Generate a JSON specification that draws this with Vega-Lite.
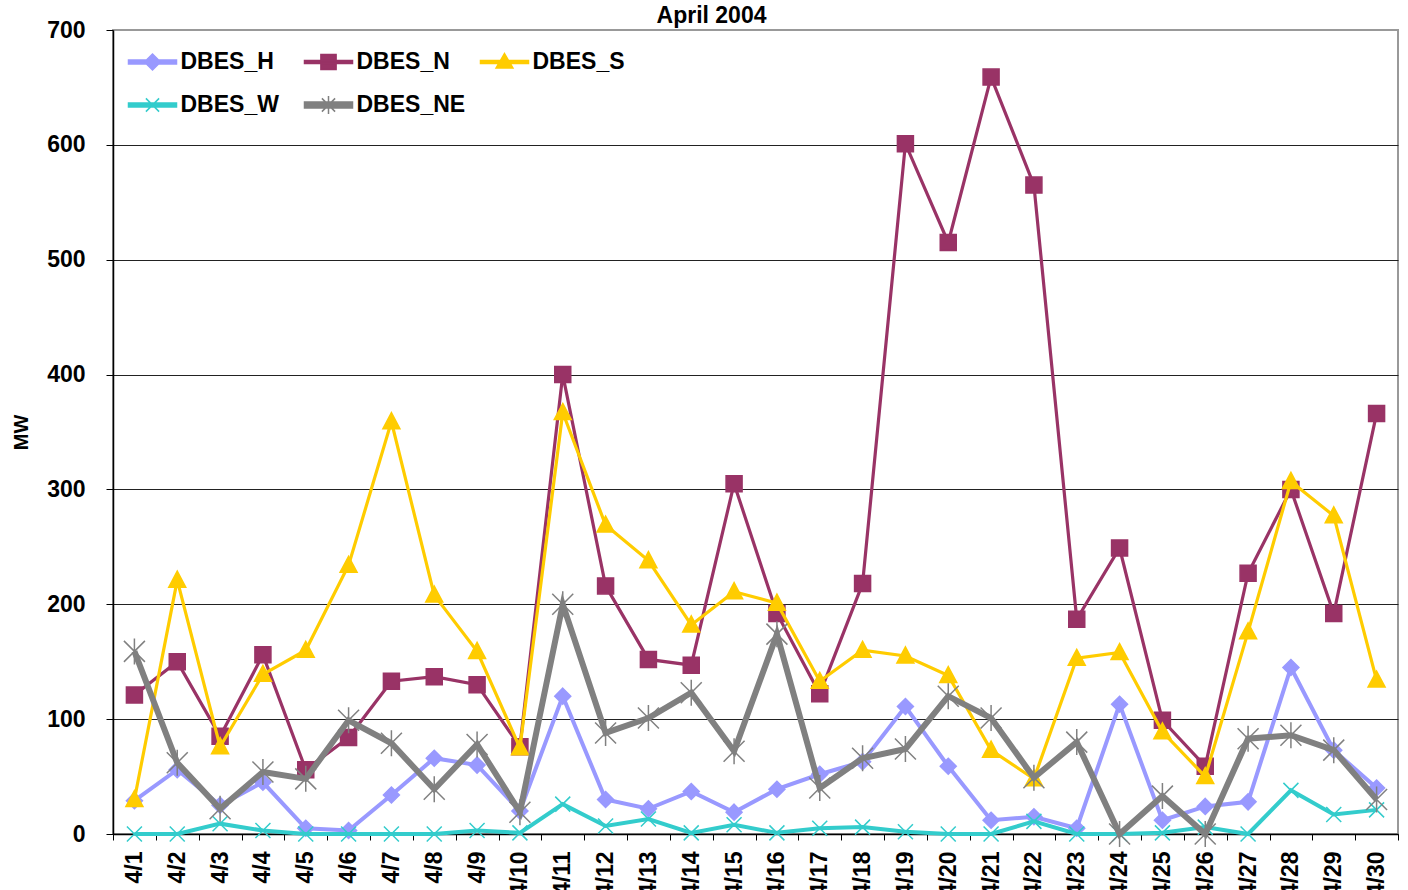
{
  "$schema": "https://vega.github.io/schema/vega-lite/v6.json",
  "width": 1285,
  "height": 804,
  "autosize": {"type": "none"},
  "padding": {"left": 113, "top": 30, "right": 10, "bottom": 56},
  "background": "white",
  "title": {"text": "April 2004", "font": "Liberation Sans", "fontSize": 23, "fontWeight": "bold", "color": "#000", "offset": -9, "dx": -44},
  "datasets": {
    "mw": [
      {"date":"4/1","series":"DBES_H","mw":29},{"date":"4/2","series":"DBES_H","mw":56},{"date":"4/3","series":"DBES_H","mw":25},{"date":"4/4","series":"DBES_H","mw":45},{"date":"4/5","series":"DBES_H","mw":5},{"date":"4/6","series":"DBES_H","mw":3},{"date":"4/7","series":"DBES_H","mw":34},{"date":"4/8","series":"DBES_H","mw":66},{"date":"4/9","series":"DBES_H","mw":60},{"date":"4/10","series":"DBES_H","mw":20},{"date":"4/11","series":"DBES_H","mw":120},{"date":"4/12","series":"DBES_H","mw":30},{"date":"4/13","series":"DBES_H","mw":22},{"date":"4/14","series":"DBES_H","mw":37},{"date":"4/15","series":"DBES_H","mw":19},{"date":"4/16","series":"DBES_H","mw":39},{"date":"4/17","series":"DBES_H","mw":52},{"date":"4/18","series":"DBES_H","mw":63},{"date":"4/19","series":"DBES_H","mw":111},{"date":"4/20","series":"DBES_H","mw":59},{"date":"4/21","series":"DBES_H","mw":12},{"date":"4/22","series":"DBES_H","mw":15},{"date":"4/23","series":"DBES_H","mw":5},{"date":"4/24","series":"DBES_H","mw":113},{"date":"4/25","series":"DBES_H","mw":12},{"date":"4/26","series":"DBES_H","mw":24},{"date":"4/27","series":"DBES_H","mw":28},{"date":"4/28","series":"DBES_H","mw":145},{"date":"4/29","series":"DBES_H","mw":73},{"date":"4/30","series":"DBES_H","mw":40},
      {"date":"4/1","series":"DBES_N","mw":121},{"date":"4/2","series":"DBES_N","mw":150},{"date":"4/3","series":"DBES_N","mw":85},{"date":"4/4","series":"DBES_N","mw":156},{"date":"4/5","series":"DBES_N","mw":56},{"date":"4/6","series":"DBES_N","mw":84},{"date":"4/7","series":"DBES_N","mw":133},{"date":"4/8","series":"DBES_N","mw":137},{"date":"4/9","series":"DBES_N","mw":130},{"date":"4/10","series":"DBES_N","mw":76},{"date":"4/11","series":"DBES_N","mw":400},{"date":"4/12","series":"DBES_N","mw":216},{"date":"4/13","series":"DBES_N","mw":152},{"date":"4/14","series":"DBES_N","mw":147},{"date":"4/15","series":"DBES_N","mw":305},{"date":"4/16","series":"DBES_N","mw":192},{"date":"4/17","series":"DBES_N","mw":122},{"date":"4/18","series":"DBES_N","mw":218},{"date":"4/19","series":"DBES_N","mw":601},{"date":"4/20","series":"DBES_N","mw":515},{"date":"4/21","series":"DBES_N","mw":659},{"date":"4/22","series":"DBES_N","mw":565},{"date":"4/23","series":"DBES_N","mw":187},{"date":"4/24","series":"DBES_N","mw":249},{"date":"4/25","series":"DBES_N","mw":99},{"date":"4/26","series":"DBES_N","mw":59},{"date":"4/27","series":"DBES_N","mw":227},{"date":"4/28","series":"DBES_N","mw":300},{"date":"4/29","series":"DBES_N","mw":192},{"date":"4/30","series":"DBES_N","mw":366},
      {"date":"4/1","series":"DBES_S","mw":30},{"date":"4/2","series":"DBES_S","mw":221},{"date":"4/3","series":"DBES_S","mw":76},{"date":"4/4","series":"DBES_S","mw":139},{"date":"4/5","series":"DBES_S","mw":160},{"date":"4/6","series":"DBES_S","mw":234},{"date":"4/7","series":"DBES_S","mw":359},{"date":"4/8","series":"DBES_S","mw":208},{"date":"4/9","series":"DBES_S","mw":159},{"date":"4/10","series":"DBES_S","mw":75},{"date":"4/11","series":"DBES_S","mw":367},{"date":"4/12","series":"DBES_S","mw":269},{"date":"4/13","series":"DBES_S","mw":238},{"date":"4/14","series":"DBES_S","mw":182},{"date":"4/15","series":"DBES_S","mw":211},{"date":"4/16","series":"DBES_S","mw":201},{"date":"4/17","series":"DBES_S","mw":133},{"date":"4/18","series":"DBES_S","mw":160},{"date":"4/19","series":"DBES_S","mw":155},{"date":"4/20","series":"DBES_S","mw":138},{"date":"4/21","series":"DBES_S","mw":73},{"date":"4/22","series":"DBES_S","mw":48},{"date":"4/23","series":"DBES_S","mw":153},{"date":"4/24","series":"DBES_S","mw":158},{"date":"4/25","series":"DBES_S","mw":89},{"date":"4/26","series":"DBES_S","mw":50},{"date":"4/27","series":"DBES_S","mw":176},{"date":"4/28","series":"DBES_S","mw":307},{"date":"4/29","series":"DBES_S","mw":277},{"date":"4/30","series":"DBES_S","mw":134},
      {"date":"4/1","series":"DBES_W","mw":0},{"date":"4/2","series":"DBES_W","mw":0},{"date":"4/3","series":"DBES_W","mw":9},{"date":"4/4","series":"DBES_W","mw":3},{"date":"4/5","series":"DBES_W","mw":0},{"date":"4/6","series":"DBES_W","mw":0},{"date":"4/7","series":"DBES_W","mw":0},{"date":"4/8","series":"DBES_W","mw":0},{"date":"4/9","series":"DBES_W","mw":3},{"date":"4/10","series":"DBES_W","mw":1},{"date":"4/11","series":"DBES_W","mw":26},{"date":"4/12","series":"DBES_W","mw":7},{"date":"4/13","series":"DBES_W","mw":13},{"date":"4/14","series":"DBES_W","mw":1},{"date":"4/15","series":"DBES_W","mw":8},{"date":"4/16","series":"DBES_W","mw":1},{"date":"4/17","series":"DBES_W","mw":5},{"date":"4/18","series":"DBES_W","mw":6},{"date":"4/19","series":"DBES_W","mw":2},{"date":"4/20","series":"DBES_W","mw":0},{"date":"4/21","series":"DBES_W","mw":0},{"date":"4/22","series":"DBES_W","mw":11},{"date":"4/23","series":"DBES_W","mw":0},{"date":"4/24","series":"DBES_W","mw":0},{"date":"4/25","series":"DBES_W","mw":1},{"date":"4/26","series":"DBES_W","mw":6},{"date":"4/27","series":"DBES_W","mw":0},{"date":"4/28","series":"DBES_W","mw":38},{"date":"4/29","series":"DBES_W","mw":17},{"date":"4/30","series":"DBES_W","mw":21},
      {"date":"4/1","series":"DBES_NE","mw":159},{"date":"4/2","series":"DBES_NE","mw":62},{"date":"4/3","series":"DBES_NE","mw":22},{"date":"4/4","series":"DBES_NE","mw":54},{"date":"4/5","series":"DBES_NE","mw":48},{"date":"4/6","series":"DBES_NE","mw":99},{"date":"4/7","series":"DBES_NE","mw":79},{"date":"4/8","series":"DBES_NE","mw":39},{"date":"4/9","series":"DBES_NE","mw":78},{"date":"4/10","series":"DBES_NE","mw":19},{"date":"4/11","series":"DBES_NE","mw":200},{"date":"4/12","series":"DBES_NE","mw":88},{"date":"4/13","series":"DBES_NE","mw":101},{"date":"4/14","series":"DBES_NE","mw":123},{"date":"4/15","series":"DBES_NE","mw":72},{"date":"4/16","series":"DBES_NE","mw":174},{"date":"4/17","series":"DBES_NE","mw":40},{"date":"4/18","series":"DBES_NE","mw":66},{"date":"4/19","series":"DBES_NE","mw":74},{"date":"4/20","series":"DBES_NE","mw":120},{"date":"4/21","series":"DBES_NE","mw":101},{"date":"4/22","series":"DBES_NE","mw":49},{"date":"4/23","series":"DBES_NE","mw":80},{"date":"4/24","series":"DBES_NE","mw":0},{"date":"4/25","series":"DBES_NE","mw":33},{"date":"4/26","series":"DBES_NE","mw":0},{"date":"4/27","series":"DBES_NE","mw":83},{"date":"4/28","series":"DBES_NE","mw":86},{"date":"4/29","series":"DBES_NE","mw":73},{"date":"4/30","series":"DBES_NE","mw":30}
    ]
  },
  "data": {"name": "mw"},
  "encoding": {
    "x": {
      "field": "date", "type": "ordinal", "title": null,
      "scale": {"domain": ["4/1","4/2","4/3","4/4","4/5","4/6","4/7","4/8","4/9","4/10","4/11","4/12","4/13","4/14","4/15","4/16","4/17","4/18","4/19","4/20","4/21","4/22","4/23","4/24","4/25","4/26","4/27","4/28","4/29","4/30"], "paddingInner": 0, "paddingOuter": 0},
      "axis": {"labelAngle": 270, "labelFont": "Liberation Sans", "labelFontSize": 23, "labelFontWeight": "bold", "labelColor": "#000", "labelPadding": 11, "tickBand": "extent", "tickSize": 6, "tickColor": "#000", "tickWidth": 1, "domainColor": "#000", "domainWidth": 1.5, "grid": false, "labelOverlap": false, "labelBound": false}
    },
    "y": {
      "field": "mw", "type": "quantitative", "title": "MW",
      "scale": {"domain": [0, 700], "nice": false},
      "axis": {"values": [0,100,200,300,400,500,600,700], "grid": true, "gridColor": {"condition": {"test": "datum.value === 700", "value": "#999999"}, "value": "#222222"}, "gridWidth": 1, "labelFont": "Liberation Sans", "labelFontSize": 23, "labelFontWeight": "bold", "labelColor": "#000", "labelPadding": 21, "tickSize": 7, "tickColor": "#000", "domainColor": "#000", "domainWidth": 1.5, "titleFont": "Liberation Sans", "titleFontSize": 20, "titleFontWeight": "bold", "titleColor": "#000", "titlePadding": 15}
    }
  },
  "resolve": {"scale": {"shape": "independent"}, "legend": {"shape": "independent"}},
  "layer": [
    {
      "transform": [{"filter": "datum.series === 'DBES_H'"}],
      "mark": {"type": "line", "strokeJoin": "miter", "strokeWidth": 4},
      "encoding": {
        "stroke": {"field": "series", "type": "nominal", "scale": {"domain": ["DBES_H","DBES_N","DBES_S","DBES_W","DBES_NE"], "range": ["#9999FF","#993366","#FFCC00","#33CCCC","#808080"]},
          "legend": {"title": null, "orient": "none", "legendX": 18.5, "legendY": 11, "direction": "horizontal", "columns": 3, "gridAlign": "all", "columnPadding": 12, "rowPadding": 10, "symbolSize": 1600, "symbolStrokeWidth": 1.5, "labelFont": "Liberation Sans", "labelFontSize": 23, "labelFontWeight": "bold", "labelColor": "#000", "labelOffset": 7, "padding": 0,
            "encode": {"symbols": {"update": {
              "shape": {"signal": "datum.value === 'DBES_H' ? 'M-1.2,-0.1H1.2V0.1H-1.2Z M0,-0.4L0.4,0L0,0.4L-0.4,0Z' : datum.value === 'DBES_N' ? 'M-1.2,-0.075H1.2V0.075H-1.2Z M-0.38,-0.38H0.38V0.38H-0.38Z' : datum.value === 'DBES_S' ? 'M-1.2,-0.075H1.2V0.075H-1.2Z M0,-0.42L0.42,0.3H-0.42Z' : datum.value === 'DBES_W' ? 'M-1.2,-0.1H1.2V0.1H-1.2Z M-0.33,-0.33L0.33,0.33M-0.33,0.33L0.33,-0.33' : 'M-1.2,-0.15H1.2V0.15H-1.2Z M-0.33,-0.33L0.33,0.33M-0.33,0.33L0.33,-0.33M0,-0.45V0.45'"},
              "fill": {"scale": "stroke", "field": "value"},
              "stroke": {"scale": "stroke", "field": "value"},
              "strokeWidth": {"value": 1.5},
              "opacity": {"value": 1},
              "size": {"value": 1600}
            }}}
          }
        }
      }
    },
    {
      "transform": [{"filter": "datum.series === 'DBES_H'"}],
      "mark": {"type": "point", "filled": true, "size": 400, "strokeWidth": 1.5, "opacity": 1},
      "encoding": {
        "fill": {"field": "series", "type": "nominal", "scale": {"domain": ["DBES_H","DBES_N","DBES_S","DBES_W","DBES_NE"], "range": ["#9999FF","#993366","#FFCC00","#33CCCC","#808080"]}, "legend": null},
        "stroke": {"field": "series", "type": "nominal", "legend": null},
        "shape": {"field": "series", "type": "nominal", "legend": null, "scale": {"domain": ["DBES_H","DBES_N","DBES_S","DBES_W","DBES_NE"], "range": ["M0,-0.8L0.8,0L0,0.8L-0.8,0Z", "M-0.8,-0.8H0.8V0.8H-0.8Z", "M0,-0.9L0.85,0.7H-0.85Z", "M-0.75,-0.75L0.75,0.75M-0.75,0.75L0.75,-0.75", "M-1.05,-1.05L1.05,1.05M-1.05,1.05L1.05,-1.05M0,-1.3V1.3"]}}
      }
    },
    {
      "transform": [{"filter": "datum.series === 'DBES_N'"}],
      "mark": {"type": "line", "strokeJoin": "miter", "strokeWidth": 3.2},
      "encoding": {"stroke": {"field": "series", "type": "nominal", "legend": null}}
    },
    {
      "transform": [{"filter": "datum.series === 'DBES_N'"}],
      "mark": {"type": "point", "filled": true, "size": 400, "strokeWidth": 1.5, "opacity": 1},
      "encoding": {
        "fill": {"field": "series", "type": "nominal", "legend": null},
        "stroke": {"field": "series", "type": "nominal", "legend": null},
        "shape": {"field": "series", "type": "nominal", "legend": null, "scale": {"domain": ["DBES_H","DBES_N","DBES_S","DBES_W","DBES_NE"], "range": ["M0,-0.8L0.8,0L0,0.8L-0.8,0Z", "M-0.8,-0.8H0.8V0.8H-0.8Z", "M0,-0.9L0.85,0.7H-0.85Z", "M-0.75,-0.75L0.75,0.75M-0.75,0.75L0.75,-0.75", "M-1.05,-1.05L1.05,1.05M-1.05,1.05L1.05,-1.05M0,-1.3V1.3"]}}
      }
    },
    {
      "transform": [{"filter": "datum.series === 'DBES_S'"}],
      "mark": {"type": "line", "strokeJoin": "miter", "strokeWidth": 3.2},
      "encoding": {"stroke": {"field": "series", "type": "nominal", "legend": null}}
    },
    {
      "transform": [{"filter": "datum.series === 'DBES_S'"}],
      "mark": {"type": "point", "filled": true, "size": 400, "strokeWidth": 1.5, "opacity": 1},
      "encoding": {
        "fill": {"field": "series", "type": "nominal", "legend": null},
        "stroke": {"field": "series", "type": "nominal", "legend": null},
        "shape": {"field": "series", "type": "nominal", "legend": null, "scale": {"domain": ["DBES_H","DBES_N","DBES_S","DBES_W","DBES_NE"], "range": ["M0,-0.8L0.8,0L0,0.8L-0.8,0Z", "M-0.8,-0.8H0.8V0.8H-0.8Z", "M0,-0.9L0.85,0.7H-0.85Z", "M-0.75,-0.75L0.75,0.75M-0.75,0.75L0.75,-0.75", "M-1.05,-1.05L1.05,1.05M-1.05,1.05L1.05,-1.05M0,-1.3V1.3"]}}
      }
    },
    {
      "transform": [{"filter": "datum.series === 'DBES_W'"}],
      "mark": {"type": "line", "strokeJoin": "miter", "strokeWidth": 4},
      "encoding": {"stroke": {"field": "series", "type": "nominal", "legend": null}}
    },
    {
      "transform": [{"filter": "datum.series === 'DBES_W'"}],
      "mark": {"type": "point", "filled": true, "size": 400, "strokeWidth": 1.5, "opacity": 1},
      "encoding": {
        "fill": {"field": "series", "type": "nominal", "legend": null},
        "stroke": {"field": "series", "type": "nominal", "legend": null},
        "shape": {"field": "series", "type": "nominal", "legend": null, "scale": {"domain": ["DBES_H","DBES_N","DBES_S","DBES_W","DBES_NE"], "range": ["M0,-0.8L0.8,0L0,0.8L-0.8,0Z", "M-0.8,-0.8H0.8V0.8H-0.8Z", "M0,-0.9L0.85,0.7H-0.85Z", "M-0.75,-0.75L0.75,0.75M-0.75,0.75L0.75,-0.75", "M-1.05,-1.05L1.05,1.05M-1.05,1.05L1.05,-1.05M0,-1.3V1.3"]}}
      }
    },
    {
      "transform": [{"filter": "datum.series === 'DBES_NE'"}],
      "mark": {"type": "line", "strokeJoin": "miter", "strokeWidth": 6},
      "encoding": {"stroke": {"field": "series", "type": "nominal", "legend": null}}
    },
    {
      "transform": [{"filter": "datum.series === 'DBES_NE'"}],
      "mark": {"type": "point", "filled": true, "size": 400, "strokeWidth": 1.5, "opacity": 1},
      "encoding": {
        "fill": {"field": "series", "type": "nominal", "legend": null},
        "stroke": {"field": "series", "type": "nominal", "legend": null},
        "shape": {"field": "series", "type": "nominal", "legend": null, "scale": {"domain": ["DBES_H","DBES_N","DBES_S","DBES_W","DBES_NE"], "range": ["M0,-0.8L0.8,0L0,0.8L-0.8,0Z", "M-0.8,-0.8H0.8V0.8H-0.8Z", "M0,-0.9L0.85,0.7H-0.85Z", "M-0.75,-0.75L0.75,0.75M-0.75,0.75L0.75,-0.75", "M-1.05,-1.05L1.05,1.05M-1.05,1.05L1.05,-1.05M0,-1.3V1.3"]}}
      }
    }
  ],
  "config": {
    "view": {"stroke": "#999999", "strokeWidth": 2},
    "axis": {"labelFont": "Liberation Sans", "titleFont": "Liberation Sans"}
  }
}
